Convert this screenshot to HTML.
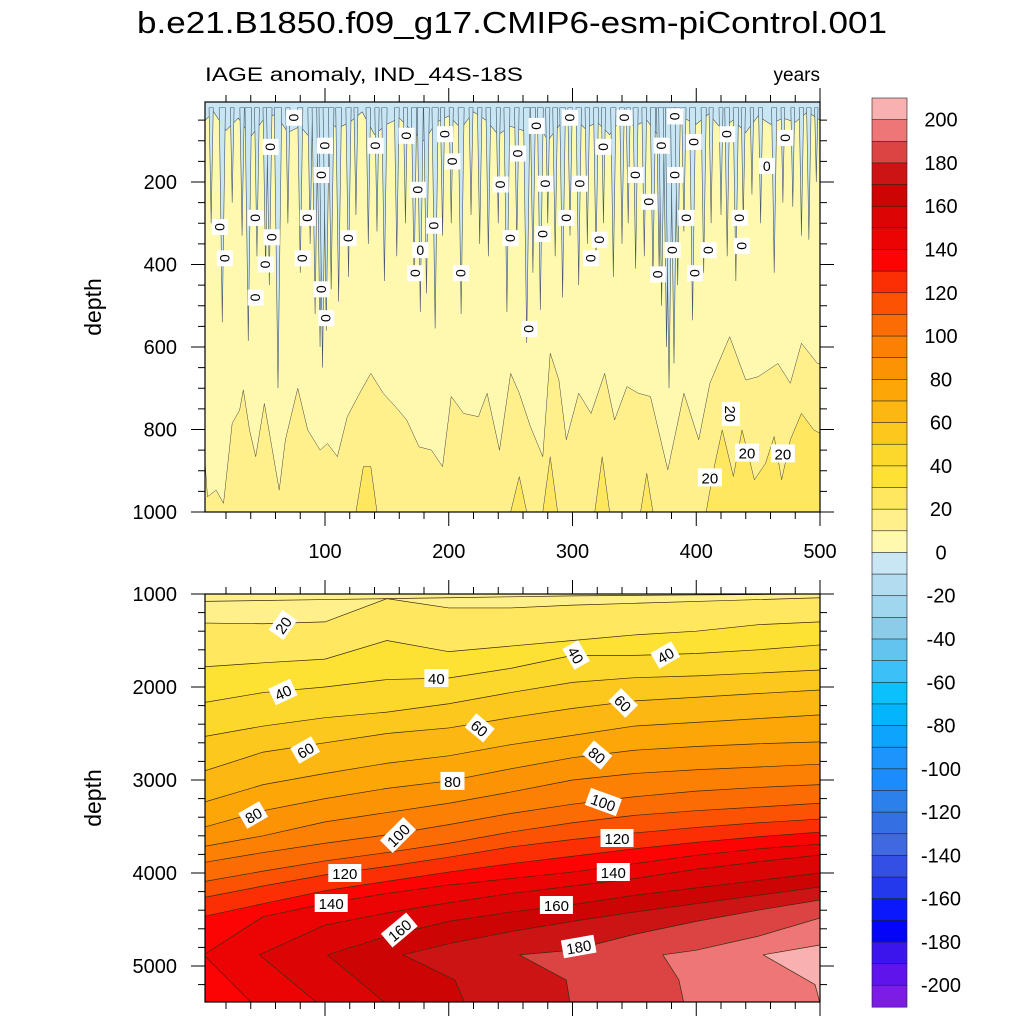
<!DOCTYPE html>
<html><head><meta charset="utf-8">
<style>
html,body{margin:0;padding:0;background:#fff;}
svg{display:block;font-family:"Liberation Sans",sans-serif;}
</style></head>
<body>
<svg id="chart" width="1024" height="1024" viewBox="0 0 1024 1024" xmlns="http://www.w3.org/2000/svg">
<defs>
<clipPath id="clipTop"><rect x="205" y="102" width="615" height="410"/></clipPath>
<clipPath id="clipBot"><rect x="205" y="594" width="615" height="408"/></clipPath>
</defs>
<rect width="1024" height="1024" fill="#fff"/>
<text x="512" y="33" font-size="31" text-anchor="middle" textLength="750" lengthAdjust="spacingAndGlyphs">b.e21.B1850.f09_g17.CMIP6-esm-piControl.001</text>
<text x="205" y="81" font-size="19" textLength="318" lengthAdjust="spacingAndGlyphs">IAGE anomaly, IND_44S-18S</text>
<text x="820" y="81" font-size="19" text-anchor="end">years</text>
<text transform="translate(101,307) rotate(-90)" font-size="23" text-anchor="middle">depth</text>
<text transform="translate(101,798) rotate(-90)" font-size="23" text-anchor="middle">depth</text>
<g id="topPanel"></g>
<g id="botPanel"></g>
<g id="axes"></g>
<g id="cbar"></g>
</svg>
<script>
// ---------- data ----------
const gridYears = [0,50,100,150,200,250,300,350,400,450,500];
const levels = [10,20,30,40,50,60,70,80,90,100,110,120,130,140,150,160,170,180,190,200];
const upperDepths = [
 [1080,1070,1060,1050,1040,1030,1020,1015,1010,1005,1000],
 [1312,1320,1300,1050,1150,1150,1120,1100,1080,1060,1040],
 [1785,1740,1700,1500,1620,1560,1500,1440,1400,1330,1300],
 [2172,2060,2000,1920,1903,1800,1660,1660,1640,1600,1548],
 [2538,2420,2330,2270,2180,2060,1950,1900,1880,1850,1817],
 [2914,2700,2600,2500,2440,2330,2230,2150,2110,2070,2032],
 [3247,3050,2930,2820,2740,2620,2520,2420,2380,2340,2300],
 [3516,3330,3200,3090,3010,2880,2760,2680,2640,2610,2590],
 [3720,3600,3450,3350,3250,3130,3000,2930,2890,2860,2830],
 [3892,3780,3680,3590,3480,3360,3260,3180,3120,3080,3050],
 [4097,3980,3870,3780,3680,3560,3460,3380,3330,3290,3250],
 [4269,4140,4020,3930,3830,3720,3640,3570,3510,3460,3420],
 [4473,4330,4190,4090,3990,3900,3820,3740,3670,3610,3560],
 [null,4470,4330,4220,4130,4060,3990,3900,3810,3740,3690],
 [null,null,4560,4430,4320,4220,4140,4060,3960,3880,3806],
 [null,null,null,4680,4520,4420,4340,4240,4160,4080,4000],
 [null,null,null,null,4760,4630,4520,4420,4330,4240,4150],
 [null,null,null,null,null,null,4830,4660,4520,4400,4290],
 [null,null,null,null,null,null,null,null,4830,4680,4484],
 [null,null,null,null,null,null,null,null,null,null,4774]
];
const vertexYears = [null,null,null,null,null,null,null,null,null,null,null,null,null,2,47,102,163,257,373,454];
const vertexDepth = 4880;
const lowerYears = [[],[],[],[],[],[],[],[],[],[],[],[],[],[41],[94],[149],[205,213],[295,298],[386,390],[496,500]];
const lowerDepths = [[],[],[],[],[],[],[],[],[],[],[],[],[],[5400],[5400],[5400],[5150,5400],[5150,5400],[5150,5400],[5200,5400]];
const bandColors = ["#fff08c","#ffe85f","#fde133","#fdd82c","#fcc81e","#fcb712","#fca608","#fc9304","#fc8004","#fc6c04","#fc5204","#fc2e04","#fc0404","#ec0404","#dc0404","#cc0404","#cc1414","#dc4444","#ee7676","#f8b0b0"];
const baseColor = "#fff9b0";
const negColor = "#c8e6f4";

// top panel
const negBaseYears = [0,10,20,30,40,50,60,70,80,90,100,110,120,130,140,150,160,170,180,190,200,210,220,230,240,250,260,270,280,290,300,310,320,330,340,350,360,370,380,390,400,410,420,430,440,450,460,470,480,490,500];
const negBaseDepths = [60,30,75,45,90,50,35,80,65,100,45,70,55,30,85,60,45,75,100,55,40,70,30,50,85,65,75,45,100,60,40,70,55,85,45,65,50,90,75,45,60,35,70,50,80,40,60,45,55,30,50];
const spikeYears = [8,17,25,33,38,45,52,55,62,70,80,88,92,96,98,101,105,111,119,125,135,142,148,158,165,172,177,182,189,195,202,210,218,225,232,240,247,255,263,268,274,280,286,292,298,305,312,319,325,333,340,345,351,358,365,370,372,376,378,382,385,390,397,406,412,420,425,432,438,445,452,463,470,478,485,491,497];
const spikeDepths = [300,540,250,330,585,380,420,450,700,300,420,350,520,600,650,560,460,490,430,280,350,320,440,380,300,440,515,470,555,330,300,520,280,350,380,300,515,350,590,420,510,300,380,480,330,450,350,390,300,430,350,300,410,380,440,420,500,600,700,640,450,320,535,420,300,280,380,440,300,230,300,420,250,260,330,340,200];
const years10 = [3,5,12,18,25,31,34,39,44,51,57,63,68,78,86,96,102,110,118,128,137,147,157,166,176,186,195,202,212,224,231,241,250,257,266,276,282,289,295,305,315,326,334,344,353,363,377,390,402,411,427,440,450,466,476,485,498,500];
const depths10 = [874,963,947,979,785,753,704,801,866,737,842,947,825,700,801,850,834,866,769,712,664,712,745,777,842,850,890,720,761,769,712,850,664,712,793,866,615,680,825,712,761,664,777,696,712,720,898,712,825,688,575,680,672,640,688,591,640,640];
const years20 = [3,125,131,137,142,250,257,263,276,282,288,318,324,330,355,360,365,408,414,421,430,437,447,456,463,469,476,485,495,500];
const depths20 = [1000,1000,890,890,1000,1000,914,1000,1000,866,1000,1000,866,1000,1000,906,1000,1000,898,801,914,801,922,882,817,922,825,761,801,809];

// labels
const zeroLabelYears = [75,56,100,141,166,197,271,298,342,383,325,372,398,425,472,256,203,97,351,383,457,175,242,278,306,362,44,86,295,392,435,188,15,57,119,250,276,322,437,177,381,410,19,82,315,52,173,210,369,399,44,97,101,265];
const zeroLabelDepths = [44,115,112,112,88,84,64,44,44,41,115,112,103,84,93,131,150,183,183,183,161,219,206,204,204,248,287,287,287,287,287,306,309,334,336,336,326,340,355,365,365,365,385,385,385,400,421,421,424,421,480,460,530,556];
const zeroLabelVertical = [20, 39];
const twentyTopYears = [428,411,441,470];
const twentyTopDepths = [762,916,856,858];
const botLabelText = ["20","40","40","40","40","60","60","60","80","80","80","100","100","120","120","140","140","160","160","180"];
const botLabelYears = [66,66,190,303,375,84,225,341,42,203,320,159,325,116,336,105,333,160,287,305];
const botLabelDepths = [1333,2054,1903,1656,1656,2677,2440,2172,3376,3010,2731,3591,3237,4000,3624,4323,3989,4613,4344,4790];
const botLabelAngles = [-55,-25,0,60,-30,-30,40,45,-30,0,40,-45,20,0,0,0,0,-40,0,-10];

// axes
const xTickValues = [100,200,300,400,500];
const topYTickValues = [200,400,600,800,1000];
const botYTickValues = [1000,2000,3000,4000,5000];
const cbarLabels = [200,180,160,140,120,100,80,60,40,20,0,-20,-40,-60,-80,-100,-120,-140,-160,-180,-200];
const cbarColors = ["#f8b0b0","#ee7676","#dc4444","#cc1414","#cc0404","#dc0404","#ec0404","#fc0404","#fc2e04","#fc5204","#fc6c04","#fc8004","#fc9304","#fca608","#fcb712","#fcc81e","#fdd82c","#fde133","#ffe85f","#fff08c","#fff9b0",
 "#c8e6f4","#b4dcf0","#a0d6ee","#8ccce8","#64c4f0","#3cc0f8","#0cc0fc","#04b4fc","#0ca4fc","#1c94fc","#1c8cfc","#2c80ec","#3470e4","#4068e0","#3450e4","#2438ec","#0c18fc","#0404f8","#3c14ec","#6014ec","#7c1ce4"];

// ---------- scales ----------
const NS = "http://www.w3.org/2000/svg";
function xs(yr){ return 201.25 + yr*1.2375; }
function yTop(d){ return 512 - (1000-d)*0.4125; }
function yBot(d){ return 594 + (d-1000)*0.093; }
function mk(tag, attrs, parent){ const e=document.createElementNS(NS,tag); for(const k in attrs) e.setAttribute(k,attrs[k]); parent.appendChild(e); return e; }
function pts(arr, yf){ return arr.map(p=>xs(p[0]).toFixed(2)+","+yf(p[1]).toFixed(2)).join(" "); }

// ---------- bottom panel ----------
const botG = document.getElementById('botPanel');
const bg = mk('g',{'clip-path':'url(#clipBot)'},botG);
let r = mk('rect',{x:205,y:594,width:615,height:408,fill:bandColors[0]},bg);


const BOT = 5400;
const lines = [];
levels.forEach((lv,i)=>{
  const v = vertexYears[i];
  const up = [];
  if(v!==null) up.push([v,vertexDepth]);
  gridYears.forEach((yr,j)=>{ const d=upperDepths[i][j]; if(d!==null && (v===null || yr>v)) up.push([yr,d]); });
  const low = [];
  if(v!==null){ low.push([v,vertexDepth]); lowerYears[i].forEach((yr,k)=>low.push([yr,lowerDepths[i][k]])); }
  let poly;
  if(v===null){ poly = up.concat([[500,BOT],[0,BOT]]); }
  else {
    poly = up.slice();
    const last = low[low.length-1];
    if(last[0]<500) poly.push([500,BOT]);
    for(let k=low.length-1;k>=1;k--) poly.push(low[k]);
  }
  if(i>=1){
    const p = mk('polygon',{points:pts(poly,yBot),fill:bandColors[i]},bg);
    
    
  }
  lines.push([lv,up,low]);
});
lines.forEach(([lv,up,low])=>{
  const l = mk('polyline',{points:pts(up,yBot),fill:'none',stroke:'#3a2a10','stroke-width':0.7},bg);
  
  
  if(low.length){
    const l2 = mk('polyline',{points:pts(low,yBot),fill:'none',stroke:'#3a2a10','stroke-width':0.7},bg);
    
    
  }
});
botLabelText.forEach((t,i)=>{
  const g = mk('g',{transform:'translate('+xs(botLabelYears[i]).toFixed(1)+','+yBot(botLabelDepths[i]).toFixed(1)+') rotate('+botLabelAngles[i]+')'},bg);
  
  
  const w = t.length*9+6;
  mk('rect',{x:-w/2,y:-9,width:w,height:18,fill:'#fff'},g);
  const tx = mk('text',{x:0,y:6,'font-size':15,'text-anchor':'middle'},g);
  tx.textContent = t;
});

// ---------- top panel ----------
const topG = document.getElementById('topPanel');
const tg = mk('g',{'clip-path':'url(#clipTop)'},topG);
r = mk('rect',{x:205,y:102,width:615,height:410,fill:baseColor},tg);


const p10 = years10.map((y,i)=>[y,depths10[i]]);
let pp = mk('polygon',{points:pts(p10.concat([[500,1010],[3,1010]]),yTop),fill:bandColors[0],stroke:'#444','stroke-width':0.5},tg);


const p20 = years20.map((y,i)=>[y,depths20[i]]);
pp = mk('polygon',{points:pts(p20.concat([[500,1010],[3,1010]]),yTop),fill:bandColors[1],stroke:'#444','stroke-width':0.5},tg);


const nb = negBaseYears.map((y,i)=>[y,negBaseDepths[i]]);
pp = mk('polygon',{points:pts([[0,0]].concat(nb,[[500,0]]),yTop),fill:negColor,stroke:'#456','stroke-width':0.6},tg);


spikeYears.forEach((yr,i)=>{
  const d = spikeDepths[i];
  const w = 0.7 + d/300;
  const s = mk('polygon',{points:pts([[yr-w,20],[yr-w*0.3,d*0.7],[yr,d],[yr+w*0.3,d*0.7],[yr+w,20]],yTop),fill:negColor,stroke:'#456','stroke-width':0.6},tg);
  
  
});
zeroLabelYears.forEach((yr,i)=>{
  const vert = zeroLabelVertical.includes(i);
  const g = mk('g',{transform:'translate('+xs(yr).toFixed(1)+','+yTop(zeroLabelDepths[i]).toFixed(1)+')'+(vert?'':' rotate(90)')},tg);
  
  
  mk('rect',{x:-8,y:-8,width:16,height:16,fill:'#fff'},g);
  const tx = mk('text',{x:0,y:5,'font-size':14,'text-anchor':'middle'},g);
  tx.textContent = '0';
});
twentyTopYears.forEach((yr,i)=>{
  const g = mk('g',{transform:'translate('+xs(yr).toFixed(1)+','+yTop(twentyTopDepths[i]).toFixed(1)+')'+(i===0?' rotate(90)':'')},tg);
  
  
  mk('rect',{x:-12,y:-9,width:24,height:18,fill:'#fff'},g);
  const tx = mk('text',{x:0,y:6,'font-size':15,'text-anchor':'middle'},g);
  tx.textContent = '20';
});

// ---------- axes ----------
const ax = document.getElementById('axes');
function frame(y0,y1,name){
  const f = mk('rect',{x:205,y:y0,width:615,height:y1-y0,fill:'none',stroke:'#000','stroke-width':1.2},ax);
  
  
}
frame(102,512,'top-panel-frame');
frame(594,1002,'bottom-panel-frame');
function line(x1,y1,x2,y2){ mk('line',{x1,y1,x2,y2,stroke:'#000','stroke-width':1},ax); }
for(let yr=20; yr<=500; yr+=20){
  const x = xs(yr); const maj = yr%100===0; const L = maj?14:7;
  line(x,102,x,102-L); line(x,512,x,512+L); line(x,594,x,594-L); line(x,1002,x,1002+L);
}
xTickValues.forEach(v=>{
  const t = mk('text',{x:xs(v),y:558,'font-size':20,'text-anchor':'middle'},ax);
  
  
  t.textContent = v;
});
for(let d=50; d<=1000; d+=50){
  const y=yTop(d); const L = d%200===0?14:7;
  line(205,y,205-L,y); line(820,y,820+L,y);
}
topYTickValues.forEach(v=>{
  const t = mk('text',{x:177,y:yTop(v)+7,'font-size':20,'text-anchor':'end'},ax);
  
  
  t.textContent = v;
});
for(let d=1000; d<=5375; d+=200){
  const y=yBot(d); const L = d%1000===0?14:7;
  line(205,y,205-L,y); line(820,y,820+L,y);
}
botYTickValues.forEach(v=>{
  const t = mk('text',{x:177,y:yBot(v)+7,'font-size':20,'text-anchor':'end'},ax);
  
  
  t.textContent = v;
});

// ---------- colorbar ----------
const cb = document.getElementById('cbar');
const cbH = 21.64;
cbarColors.forEach((c,i)=>{
  const b = mk('rect',{x:872,y:(98+i*cbH).toFixed(2),width:35,height:(cbH+0.3).toFixed(2),fill:c,stroke:'#222','stroke-width':0.6},cb);
  
  
});
cbarLabels.forEach((v,k)=>{
  const t = mk('text',{x:941,y:(98+cbH*(1+2*k)+7).toFixed(1),'font-size':20,'text-anchor':'middle'},cb);
  
  
  t.textContent = v;
});
</script>
</body></html>
